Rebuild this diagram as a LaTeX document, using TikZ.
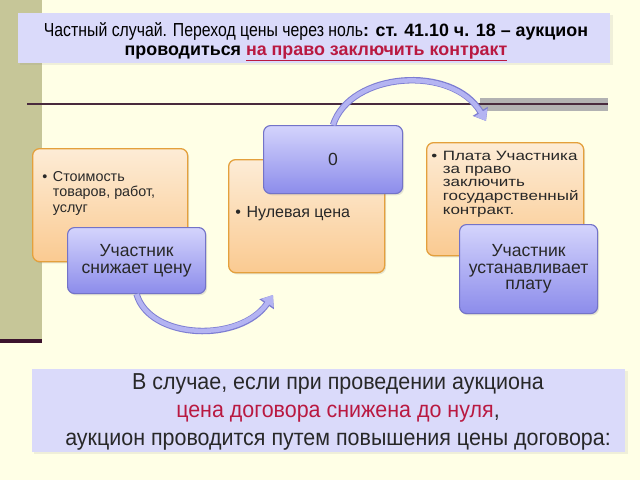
\documentclass[tikz,border=0pt]{standalone}
\usepackage{fontspec}
\setmainfont{Liberation Sans}
\newfontfamily\narrowfont[FakeStretch=0.84]{Liberation Sans}
\newfontfamily\widefont[FakeStretch=1.26]{Liberation Sans}
\newfontfamily\notefont[FakeStretch=0.93]{Liberation Sans}
\usetikzlibrary{arrows.meta, shadows}
\definecolor{cream}{RGB}{255,255,230}
\definecolor{khaki}{RGB}{198,198,152}
\definecolor{darkmaroon}{RGB}{60,20,45}
\definecolor{lavender}{RGB}{218,218,250}
\definecolor{orangetop}{RGB}{253,236,214}
\definecolor{orangebot}{RGB}{250,202,145}
\definecolor{orangeline}{RGB}{228,160,60}
\definecolor{bluetop}{RGB}{212,212,252}
\definecolor{bluebot}{RGB}{140,140,235}
\definecolor{blueline}{RGB}{115,115,200}
\definecolor{arrowfill}{RGB}{180,180,242}
\definecolor{arrowline}{RGB}{125,125,210}
\definecolor{crimson}{RGB}{185,25,65}
\definecolor{txtgray}{RGB}{40,40,40}
\newcommand{\bulitem}[1]{%
  \begin{tabular}[t]{@{}l@{\hspace{4pt}}l@{}}\textbullet & #1\end{tabular}}

\begin{document}
\begin{tikzpicture}[x=0.025cm, y=-0.025cm,
    orangebox/.style={draw=orangeline, line width=0.9pt, rounded corners=5pt,
      top color=orangetop, bottom color=orangebot, anchor=north west,
      drop shadow={opacity=0.2, shadow xshift=1pt, shadow yshift=-1.2pt}},
    bluebox/.style={draw=blueline, line width=0.8pt, rounded corners=5pt,
      top color=bluetop, bottom color=bluebot, anchor=north west,
      align=center, text=txtgray, font=\fontsize{12.5}{11.8}\selectfont,
      drop shadow={opacity=0.2, shadow xshift=1pt, shadow yshift=-1.2pt}},
    panel/.style={fill=lavender, anchor=north west,
      drop shadow={opacity=0.12, shadow xshift=1.5pt, shadow yshift=-1.5pt}},
    bullets/.style={anchor=base west, inner sep=0pt, text=txtgray},
    flow/.style={draw=arrowfill, line width=3.2pt,
      -{Triangle[length=7pt, width=10pt]},
      preaction={draw=arrowline, line width=4.6pt,
        -{Triangle[length=8pt, width=12pt]}}}
  ]
  \useasboundingbox (0,0) rectangle (640,480);
  \fill[cream] (0,0) rectangle (640,480);
  \fill[khaki] (0,0) rectangle (42,340);
  \fill[darkmaroon] (0,339) rectangle (42,343);

  % heading
  \node[panel, minimum width=14.8cm, minimum height=1.25cm] (title) at (18,13) {};
  \node[align=center, anchor=base, font=\fontsize{12.7}{15.6}\selectfont] (head) at (316,55)
    {{\narrowfont\fontsize{13.4}{15.6}\selectfont Частный случай. Переход цены через ноль}\textbf{: ст. 41.10 ч. 18 – аукцион}\\[-2.4pt]
     \textbf{проводиться \textcolor{crimson}{\underline{на право заключить контракт}}}};

  \fill[gray!60] (480,98) rectangle (608,111);
  \draw[line width=1.1pt, darkmaroon!80!gray] (27,104) -- (608,104);

  % price boxes
  \node[orangebox, minimum width=3.875cm, minimum height=2.825cm] (o1) at (32,148) {};
  \node[orangebox, minimum width=3.9cm, minimum height=2.825cm] (o2) at (228,159) {};
  \node[orangebox, minimum width=3.925cm, minimum height=2.825cm] (o3) at (426,142) {};

  \node[bullets, font=\fontsize{10.2}{11.3}\selectfont] (t1) at (42,181)
    {\bulitem{Стоимость\\ & товаров, работ,\\ & услуг}};
  \node[bullets, font=\fontsize{11.4}{12}\selectfont] (t2) at (235,217)
    {\bulitem{Нулевая цена}};
  \node[bullets, font=\widefont\fontsize{9.6}{9.5}\selectfont] (t3) at (431,160)
    {\bulitem{Плата Участника\\ & за право\\ & заключить\\ & государственный\\ & контракт.}};

  \node[bluebox, minimum width=3.45cm, minimum height=1.65cm] (b1) at (67,227)
    {Участник\\снижает цену};
  \node[bluebox, minimum width=3.475cm, minimum height=1.7cm] (b2) at (263,125) {0};
  \node[bluebox, minimum width=3.45cm, minimum height=2.225cm] (b3) at (459,224)
    {Участник\\устанавливает\\плату};

  \coordinate (e1) at (273,295);
  \coordinate (e2) at (486,121);
  \draw[flow] (b1.south) .. controls (150,340) and (240,343) .. (e1);
  \draw[flow] (b2.north) .. controls (350,72) and (452,64) .. (e2);

  % note
  \node[panel, minimum width=14.825cm, minimum height=2.075cm] (note) at (32,369) {};
  \node[align=center, anchor=base, text=txtgray,
        font=\notefont\fontsize{16.4}{19.9}\selectfont] (notetext) at (338,445)
    {В случае, если при проведении аукциона\\
     \textcolor{crimson}{цена договора снижена до нуля},\\
     аукцион проводится путем повышения цены договора:};
\end{tikzpicture}
\end{document}
